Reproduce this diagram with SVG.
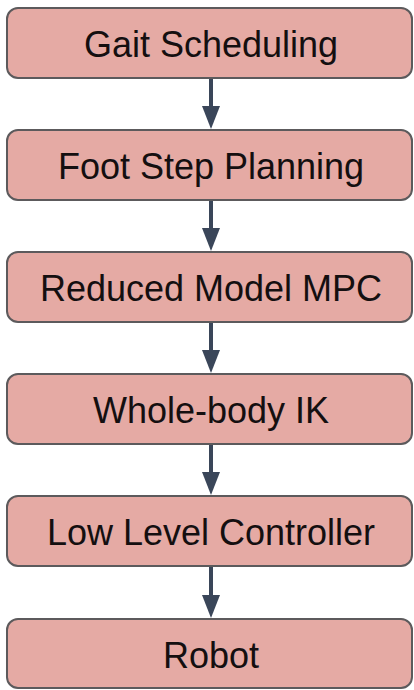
<svg xmlns="http://www.w3.org/2000/svg" width="414" height="690" viewBox="0 0 414 690">
<defs>
<style>
.box{fill:#e5aaa4;stroke:#5c5a5c;stroke-width:2}
.lbl{font-family:"Liberation Sans",Arial,sans-serif;font-size:36px;fill:#140f10;text-anchor:middle}
.conn{stroke:#3a4659;stroke-width:4;fill:none}
.head{fill:#3a4659}
</style>
</defs>
<rect width="414" height="690" fill="#ffffff"/>
<g id="connectors">
<line class="conn" x1="211" y1="79" x2="211" y2="110"/><polygon class="head" points="202,106 220,106 211,129"/>
<line class="conn" x1="211" y1="201" x2="211" y2="232"/><polygon class="head" points="202,228 220,228 211,251"/>
<line class="conn" x1="211" y1="323" x2="211" y2="354"/><polygon class="head" points="202,350 220,350 211,373"/>
<line class="conn" x1="211" y1="445" x2="211" y2="476"/><polygon class="head" points="202,472 220,472 211,495"/>
<line class="conn" x1="211" y1="567" x2="211" y2="598"/><polygon class="head" points="202,595 220,595 211,618"/>
</g>
<g id="gait"><rect class="box" x="7" y="8" width="405" height="70" rx="11"/><text class="lbl" x="211" y="57">Gait Scheduling</text></g>
<g id="footstep"><rect class="box" x="7" y="130" width="405" height="70" rx="11"/><text class="lbl" x="211" y="179">Foot Step Planning</text></g>
<g id="mpc"><rect class="box" x="7" y="252" width="405" height="70" rx="11"/><text class="lbl" x="211" y="301">Reduced Model MPC</text></g>
<g id="ik"><rect class="box" x="7" y="374" width="405" height="70" rx="11"/><text class="lbl" x="211" y="423">Whole-body IK</text></g>
<g id="llc"><rect class="box" x="7" y="496" width="405" height="70" rx="11"/><text class="lbl" x="211" y="545">Low Level Controller</text></g>
<g id="robot"><rect class="box" x="7" y="619" width="405" height="69" rx="11"/><text class="lbl" x="211" y="668">Robot</text></g>
</svg>
